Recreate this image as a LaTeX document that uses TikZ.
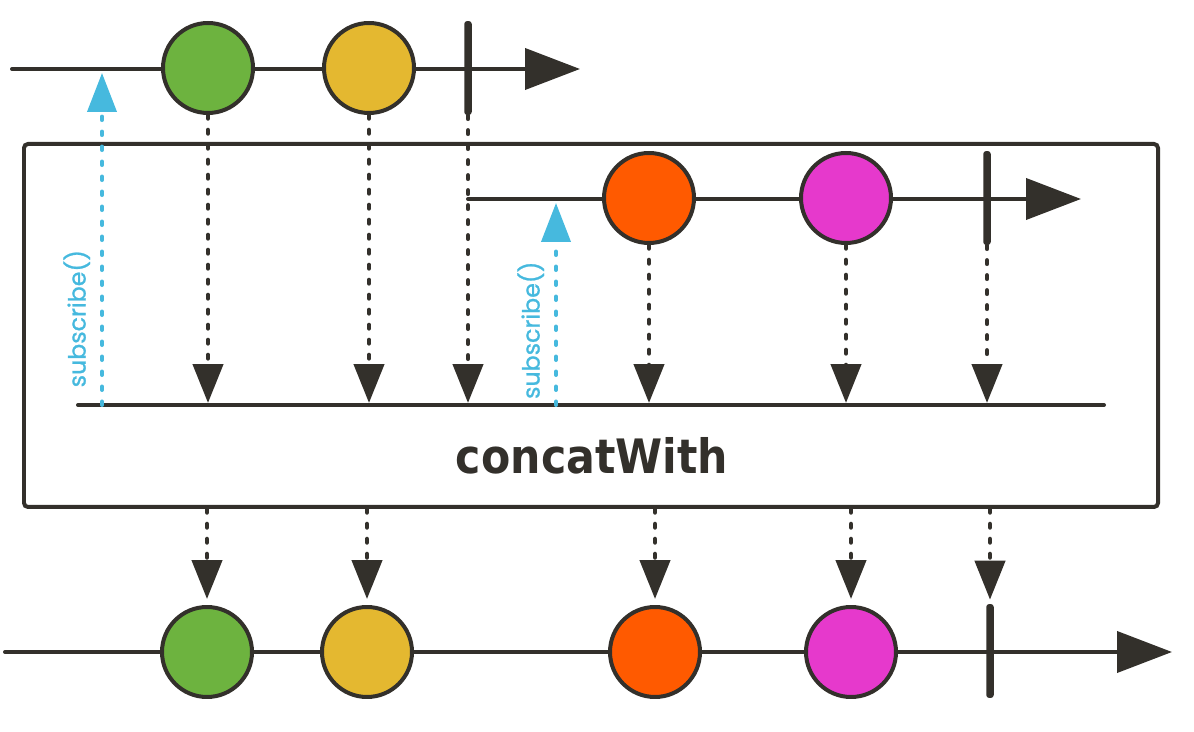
\documentclass[tikz,border=0pt]{standalone}
\usepackage{fontspec}
\usepackage{tikz}
\usetikzlibrary{
  arrows.meta,
  positioning
}
\newfontfamily\opfont[FakeStretch=0.9]{DejaVu Sans}
\newfontfamily\callfont[FakeBold=1]{Poppins}
\definecolor{lineC}{HTML}{33302B}
\definecolor{greenC}{HTML}{6DB33F}
\definecolor{yellowC}{HTML}{E4B830}
\definecolor{orangeC}{HTML}{FF5A00}
\definecolor{pinkC}{HTML}{E639CC}
\definecolor{subC}{HTML}{46B9DE}

\begin{document}
\begin{tikzpicture}[x=0.02cm, y=-0.02cm,
  marble/.style={circle, draw=lineC, line width=0.08cm, minimum size=1.8cm, inner sep=0pt},
  endbar/.style={rectangle, fill=lineC, minimum width=0.15cm, minimum height=1.88cm, inner sep=0pt, rounded corners=0.06cm},
  timeline/.style={draw=lineC, line width=0.08cm, line cap=round, -{Triangle[length=1.1cm, width=0.82cm]}},
  plainline/.style={draw=lineC, line width=0.08cm, line cap=round},
  flow/.style={draw=lineC, line width=0.09cm, line cap=round, dash pattern=on 0.07cm off 0.23cm, -{Triangle[length=0.78cm, width=0.6cm]}},
  subarrow/.style={draw=subC, line width=0.08cm, line cap=round, dash pattern=on 0.07cm off 0.23cm, -{Triangle[length=0.78cm, width=0.58cm]}},
  sublabel/.style={sloped, above, inner sep=0.2cm, text=subC, font=\callfont\fontsize{13.5}{13.5}\selectfont},
  opbox/.style={draw=lineC, line width=0.08cm, rounded corners=0.08cm},
  opname/.style={anchor=base, text=lineC, font=\opfont\bfseries\fontsize{27}{27}\selectfont}]
  \useasboundingbox (0,0) rectangle (1194,732);

  % first source
  \coordinate (s1start) at (12,69);
  \coordinate (s1stop) at (580,69);
  \draw[timeline] (s1start) -- (s1stop);
  \node[marble, fill=greenC] (s1a) at (208,68) {};
  \node[marble, fill=yellowC] (s1b) at (369,68) {};
  \node[endbar] (s1end) at (468,68) {};

  % operator box
  \draw[opbox] (24,144) rectangle (1158,507);
  \node[opname] (op) at (592,474) {concatWith};

  % second source
  \coordinate (s2start) at (468,199);
  \coordinate (s2stop) at (1081,199);
  \draw[timeline] (s2start) -- (s2stop);
  \node[marble, fill=orangeC] (s2a) at (649,198) {};
  \node[marble, fill=pinkC] (s2b) at (846,198) {};
  \node[endbar] (s2end) at (987,198) {};

  % inner line
  \coordinate (mstart) at (78,405);
  \coordinate (mstop) at (1104,405);
  \draw[plainline] (mstart) -- (mstop);
  \coordinate (m1) at (208,403);
  \coordinate (m2) at (369,403);
  \coordinate (m3) at (468,403);
  \coordinate (m4) at (649,403);
  \coordinate (m5) at (846,403);
  \coordinate (m6) at (987,403);
  \draw[flow] (s1a) -- (m1);
  \draw[flow] (s1b) -- (m2);
  \draw[flow] (s1end) -- (m3);
  \draw[flow] (s2a) -- (m4);
  \draw[flow] (s2b) -- (m5);
  \draw[flow] (s2end) -- (m6);

  % subscriptions
  \coordinate (sub1) at (102,405);
  \coordinate (sub1top) at (102,73);
  \coordinate (sub2) at (556,405);
  \coordinate (sub2top) at (556,203);
  \draw[subarrow] (sub1) -- node[sublabel, pos=0.26] {subscribe()} (sub1top);
  \draw[subarrow] (sub2) -- node[sublabel, pos=0.37] {subscribe()} (sub2top);

  % result
  \coordinate (rstart) at (5,652);
  \coordinate (rstop) at (1172,652);
  \draw[timeline] (rstart) -- (rstop);
  \node[marble, fill=greenC] (r1) at (207,652) {};
  \node[marble, fill=yellowC] (r2) at (367,652) {};
  \node[marble, fill=orangeC] (r3) at (655,652) {};
  \node[marble, fill=pinkC] (r4) at (851,652) {};
  \node[endbar] (rend) at (990,651) {};
  \coordinate (o1) at (207,509);
  \coordinate (o2) at (367,509);
  \coordinate (o3) at (655,509);
  \coordinate (o4) at (851,509);
  \coordinate (o5) at (990,509);
  \draw[flow, shorten >=0.12cm] (o1) -- (r1);
  \draw[flow, shorten >=0.12cm] (o2) -- (r2);
  \draw[flow, shorten >=0.12cm] (o3) -- (r3);
  \draw[flow, shorten >=0.12cm] (o4) -- (r4);
  \draw[flow, shorten >=0.08cm] (o5) -- (rend);
\end{tikzpicture}
\end{document}
